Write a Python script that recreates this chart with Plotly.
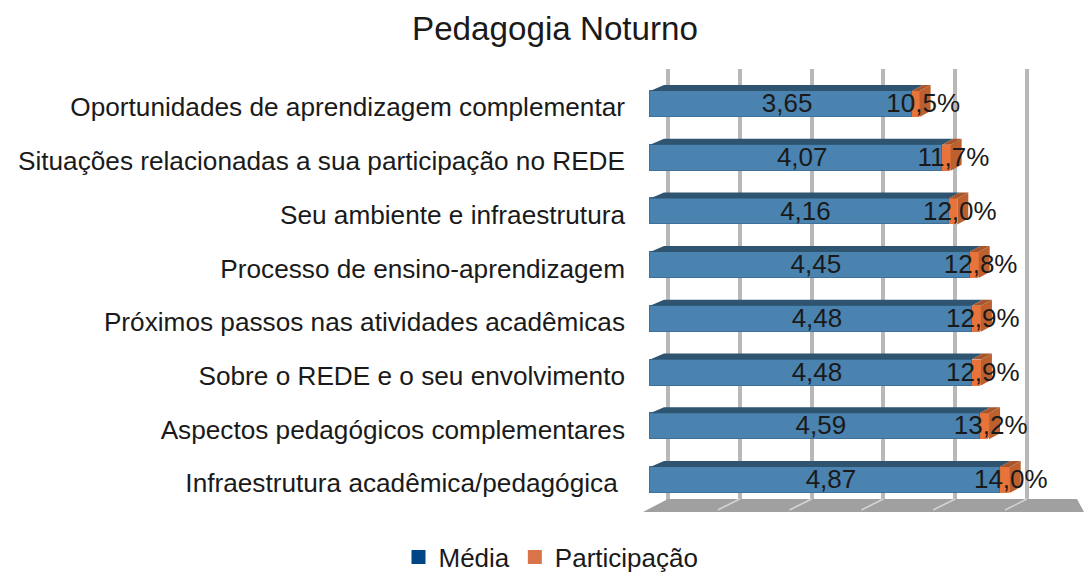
import plotly.graph_objects as go

categories = ["Oportunidades de aprendizagem complementar",
              "Situações relacionadas a sua participação no REDE",
              "Seu ambiente e infraestrutura",
              "Processo de ensino-aprendizagem",
              "Próximos passos nas atividades acadêmicas",
              "Sobre o REDE e o seu envolvimento",
              "Aspectos pedagógicos complementares",
              "Infraestrutura acadêmica/pedagógica\u00a0"]
media = [3.65, 4.07, 4.16, 4.45, 4.48, 4.48, 4.59, 4.87]
participacao = [10.5, 11.7, 12.0, 12.8, 12.9, 12.9, 13.2, 14.0]

FONT = "Liberation Sans"
TEXT = "#1a1a1a"
W, H = 1084, 572
L, T, B = 643, 69, 512
BAR0, UX = 650, 71.8
Y0, UY = 104, 53.7
BAR_H = 26 / UY
DX, DY = 11 / UX, 6 / UY
y = list(range(len(categories)))
share = [p / 100 for p in participacao]

def poly(xs, ys, color):
    return go.Scatter(x=xs, y=ys, mode="lines", fill="toself", fillcolor=color,
                      line=dict(width=0), showlegend=False, hoverinfo="skip")

fig = go.Figure()
fig.add_bar(y=y, x=media, orientation="h", width=BAR_H, marker=dict(color="#4a82b0", line=dict(width=1, color="#3f7099"), cornerradius=2),
            showlegend=False)
fig.add_bar(y=y, x=share, orientation="h", width=BAR_H, marker=dict(color="#e8743b", line=dict(width=0)),
            showlegend=False)

# floor
xl, xr = (L - BAR0) / UX, (W - BAR0) / UX
yt, yb = (499 - Y0) / UY, (B - Y0) / UY
fig.add_trace(poly([xl, 18 / UX, (1077 - BAR0) / UX, xr, xl], [yb, yt, yt, yb, yb], "#a0a0a0"))
for k in range(1, 6):
    fig.add_trace(go.Scatter(x=[k - 4 / UX, k + 18 / UX], y=[yb - 2 / UY, yt], mode="lines",
                             line=dict(color="#d4d4d4", width=1.5), showlegend=False, hoverinfo="skip"))

# 3D faces derived from the values
for i, (m, s) in enumerate(zip(media, share)):
    top = i - BAR_H / 2
    bot = i + BAR_H / 2
    fig.add_trace(poly([0, DX + 3 / UX, m + DX, m, 0], [top, top - DY, top - DY, top, top], "#2e5470"))
    e = m + s
    fig.add_trace(poly([m, m + DX, e + DX, e, m], [top, top - DY, top - DY, top, top], "#a8552a"))
    fig.add_trace(poly([e, e + DX, e + DX, e, e], [top, top - DY, bot - DY, bot, top], "#bd6030"))

# value labels
fig.add_trace(go.Scatter(x=[m * 0.5 + 0.085 for m in media], y=[i + 0.03 for i in y], mode="text",
                         text=[f"{m:.2f}".replace(".", ",") for m in media],
                         textfont=dict(family=FONT, size=26, color=TEXT), showlegend=False, hoverinfo="skip"))
fig.add_trace(go.Scatter(x=[m + 0.155 for m in media], y=[i + 0.03 for i in y], mode="text",
                         text=[f"{p:.1f}%".replace(".", ",") for p in participacao],
                         textfont=dict(family=FONT, size=26, color=TEXT), showlegend=False, hoverinfo="skip"))

# legend entries
fig.add_trace(go.Scatter(x=[None], y=[None], mode="markers", name="Média",
                         marker=dict(symbol="square", size=14, color="#004586")))
fig.add_trace(go.Scatter(x=[None], y=[None], mode="markers", name="Participação",
                         marker=dict(symbol="square", size=14, color="#d9744a")))

fig.update_layout(
    width=W, height=H, autosize=False, barmode="stack", bargap=0,
    margin=dict(l=L, r=0, t=T, b=H - B),
    paper_bgcolor="white", plot_bgcolor="white",
    font=dict(family=FONT, size=26, color=TEXT),
    title=dict(text="Pedagogia Noturno", x=555 / W, xanchor="center", y=1 - 28 / H, yanchor="middle",
               font=dict(family=FONT, size=33.2, color=TEXT)),
    xaxis=dict(range=[xl, xr], showgrid=True, tick0=18 / UX, dtick=1, gridcolor="#b8b8b8", gridwidth=3.5,
               showticklabels=False, zeroline=False, showline=False, ticks=""),
    yaxis=dict(range=[(B - Y0) / UY, (T - Y0) / UY], tickvals=[i + 3.3 / UY for i in y], ticktext=categories,
               showgrid=False, zeroline=False, showline=False, ticks="", ticklabelstandoff=17,
               tickfont=dict(family=FONT, size=26.2, color=TEXT)),
    legend=dict(orientation="h", x=551 / W, xref="container", xanchor="center", y=1 - 557 / H, yref="container", yanchor="middle",
                traceorder="normal", font=dict(family=FONT, size=26, color=TEXT), itemwidth=30),
)
fig.write_html("out.html", config=dict(displayModeBar=False),
               post_script="document.body.style.margin='0';document.documentElement.style.overflow='hidden';")
